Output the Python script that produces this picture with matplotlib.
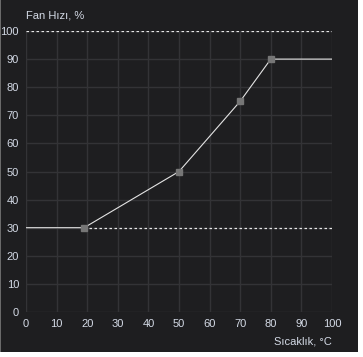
import matplotlib
matplotlib.use("Agg")
import matplotlib.pyplot as plt
from matplotlib.patches import Rectangle

temps = [0, 19, 50, 70, 80, 100]
speeds = [30, 30, 50, 75, 90, 90]
point_temps = [19, 50, 70, 80]
point_speeds = [30, 50, 75, 90]
ticks = list(range(0, 101, 10))

W, H = 363, 357
fig = plt.figure(figsize=(W / 100, H / 100), dpi=100)
fig.patch.set_facecolor("white")
fig.patches.append(Rectangle((0, 5 / H), 358 / W, 1 - 5 / H, transform=fig.transFigure,
                             facecolor="#1e1e20", edgecolor="none", zorder=-2))
fig.patches.append(Rectangle((0, 5 / H), 1.2 / W, 1 - 5 / H, transform=fig.transFigure,
                             facecolor="#6a6a6a", edgecolor="none", zorder=-1))

ax = fig.add_axes([26 / W, (H - 312) / H, 306 / W, 281 / H])
ax.set_facecolor("none")
ax.set_xlim(0, 100)
ax.set_ylim(0, 100)
for s in ax.spines.values():
    s.set_visible(False)
ax.set_xticks(ticks)
ax.set_yticks(ticks)
ax.tick_params(length=0, colors="#d4dae6", labelsize=8, pad=5)
for lab in ax.get_xticklabels() + ax.get_yticklabels():
    lab.set_fontfamily("Liberation Sans")
ax.set_axisbelow(True)
ax.grid(True, color="#333336", linewidth=1)

ax.axhline(100, color="#e8e8e8", linewidth=0.9, linestyle=(0, (2, 2)), zorder=2)
ax.plot([19, 100], [30, 30], color="#e8e8e8", linewidth=0.9, linestyle=(0, (2, 2)), zorder=2)
ax.plot(temps, speeds, color="#e4e4e4", linewidth=0.8, zorder=3)
ax.plot(point_temps, point_speeds, linestyle="none", marker="s", markersize=5,
        markerfacecolor="#767676", markeredgecolor="#767676", zorder=4)

fig.text(26 / W, 1 - 15 / H, "Fan Hızı, %", color="#d4dae6", fontsize=8,
         family="Liberation Sans", ha="left", va="center")
fig.text(332 / W, 1 - 342 / H, "Sıcaklık, °C", color="#d4dae6", fontsize=8,
         family="Liberation Sans", ha="right", va="center")

fig.savefig("out.png", dpi=100)
